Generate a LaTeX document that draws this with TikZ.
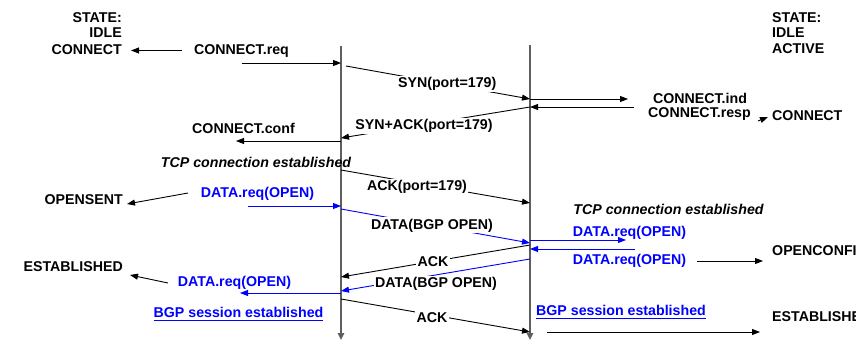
\documentclass[tikz,border=0pt]{standalone}
\usepackage{fontspec}
\setmainfont{Liberation Sans}
\usetikzlibrary{arrows.meta}
\definecolor{bblue}{RGB}{0,0,255}
\definecolor{lifegray}{RGB}{95,95,95}
\newcommand{\myul}[1]{\setbox0\hbox{#1}\rlap{\vrule width\wd0 height -2.6pt depth 3.6pt}\box0}
\begin{document}
\begin{tikzpicture}[x=1pt,y=-1pt,
  txt/.style={font=\bfseries\fontsize{14.2}{15.4}\selectfont, inner sep=0pt},
  itxt/.style={font=\bfseries\itshape\fontsize{14.2}{15.4}\selectfont, inner sep=0pt},
  btxt/.style={txt, text=bblue},
  onl/.style={txt, fill=white, text=black, inner sep=1.5pt},
  msg/.style={line width=0.9pt, -{Triangle[length=8pt,width=6pt]}},
  bmsg/.style={msg, bblue},
  life/.style={line width=1.3pt, draw=lifegray, -{Triangle[length=7pt,width=6.5pt]}, shorten <=0pt}]
\useasboundingbox (0,0) rectangle (856,340);

% lifelines
\coordinate (Ltop) at (341,46);
\coordinate (Lbot) at (341,340);
\coordinate (Rtop) at (530,45);
\coordinate (Rbot) at (530,340);
\draw[life] (Ltop) -- (Lbot);
\draw[life] (Rtop) -- (Rbot);

% left states
\node[txt, anchor=base east] (sL1) at (122,22.3) {STATE:};
\node[txt, anchor=base east] (sL2) at (122,37.6) {IDLE};
\node[txt, anchor=base east] (connL) at (122,54.3) {CONNECT};
\node[txt, anchor=base east] (opensent) at (123,204.5) {OPENSENT};
\node[txt, anchor=base east] (estL) at (123,271.5) {ESTABLISHED};

% right states
\node[txt, anchor=base west] (sR1) at (772,22.7) {STATE:};
\node[txt, anchor=base west] (sR2) at (772,37.8) {IDLE};
\node[txt, anchor=base west] (sR3) at (772,53.3) {ACTIVE};
\node[txt, anchor=base west] (connR) at (772,120) {CONNECT};
\node[txt, anchor=base west] (openconf) at (772,255) {OPENCONFIRM};
\node[txt, anchor=base west] (estR) at (772,321.5) {ESTABLISHED};

% primitives text
\node[txt, anchor=base] (creq) at (241.5,54.5) {CONNECT.req};
\node[txt, anchor=base] (cind) at (700,103) {CONNECT.ind};
\node[txt, anchor=base] (cresp) at (699.5,117) {CONNECT.resp};
\node[txt, anchor=base] (cconf) at (243.5,133) {CONNECT.conf};
\node[itxt, anchor=base] (tcpL) at (256,167) {TCP connection established};
\node[itxt, anchor=base] (tcpR) at (668.5,214) {TCP connection established};
\node[btxt, anchor=base] (dreqL1) at (257.5,197) {DATA.req(OPEN)};
\node[btxt, anchor=base] (dreqR1) at (629.5,236) {DATA.req(OPEN)};
\node[btxt, anchor=base] (dreqR2) at (629.5,264.5) {DATA.req(OPEN)};
\node[btxt, anchor=base] (dreqL2) at (234.5,286.5) {DATA.req(OPEN)};
\node[btxt, anchor=base] (bgpL) at (238.5,317) {\myul{BGP session established}};
\node[btxt, anchor=base] (bgpR) at (621,315.5) {\myul{BGP session established}};

% free ends
\coordinate (a2s) at (182,50.5);
\coordinate (a2e) at (131,50.5);
\coordinate (synS) at (346,66);
\coordinate (indE) at (628,99);
\coordinate (respS) at (634,107);
\coordinate (cnS) at (758,121);
\coordinate (cnE) at (768,117);
\coordinate (confE) at (236,141);
\coordinate (osS) at (188,193);
\coordinate (osE) at (127,204);
\coordinate (dq1S) at (248,206);
\coordinate (dqR1E) at (626,240);
\coordinate (dqR2S) at (635,249);
\coordinate (ocS) at (697,261);
\coordinate (ocE) at (763,261);
\coordinate (esS) at (168,283);
\coordinate (esE) at (130,275);
\coordinate (dqL2E) at (240,293);
\coordinate (erS) at (547,332);
\coordinate (erE) at (760,332);

% connection setup
\draw[msg] (creq |- 0,63) -- (Ltop |- 0,63);
\draw[msg] (a2s) -- (a2e);
\draw[msg] (synS) -- node[onl, pos=0.55] (syn) {SYN(port=179)} (Rtop |- 0,99);
\draw[msg] (Rtop |- 0,99) -- (indE);
\draw[msg] (respS) -- (Rtop |- 0,107);
\draw[msg] (cnS) -- (cnE);
\draw[msg] (Rtop |- 0,107) -- node[onl, pos=0.561, yshift=-1.5pt] (synack) {SYN+ACK(port=179)} (Ltop |- 0,138);
\draw[msg] (Ltop |- 0,141) -- (confE);
\draw[msg] (Ltop |- 0,170) -- node[onl, pos=0.402, yshift=-3.5pt] (ackp) {ACK(port=179)} (Rtop |- 0,203);

% OPEN exchange
\draw[msg] (osS) -- (osE);
\draw[bmsg] (dq1S) -- (Ltop |- 0,206);
\draw[bmsg] (Ltop |- 0,209) -- node[onl, pos=0.481] (dbo1) {DATA(BGP OPEN)} (Rtop |- 0,243);
\draw[bmsg] (Rtop |- 0,240) -- (dqR1E);
\draw[bmsg] (dqR2S) -- (Rtop |- 0,249);
\draw[msg] (ocS) -- (ocE);
\draw[msg] (Rtop |- 0,245) -- node[onl, pos=0.513] (ack1) {ACK} (Ltop |- 0,277);
\draw[bmsg] (Rtop |- 0,259) -- node[onl, pos=0.497, yshift=-9pt] (dbo2) {DATA(BGP OPEN)} (Ltop |- 0,291);
\draw[bmsg] (Ltop |- 0,293) -- (dqL2E);
\draw[msg] (esS) -- (esE);
\draw[msg] (Ltop |- 0,299) -- node[onl, pos=0.481, yshift=-3pt] (ack2) {ACK} (Rtop |- 0,332);
\draw[msg] (erS) -- (erE);
\end{tikzpicture}
\end{document}
